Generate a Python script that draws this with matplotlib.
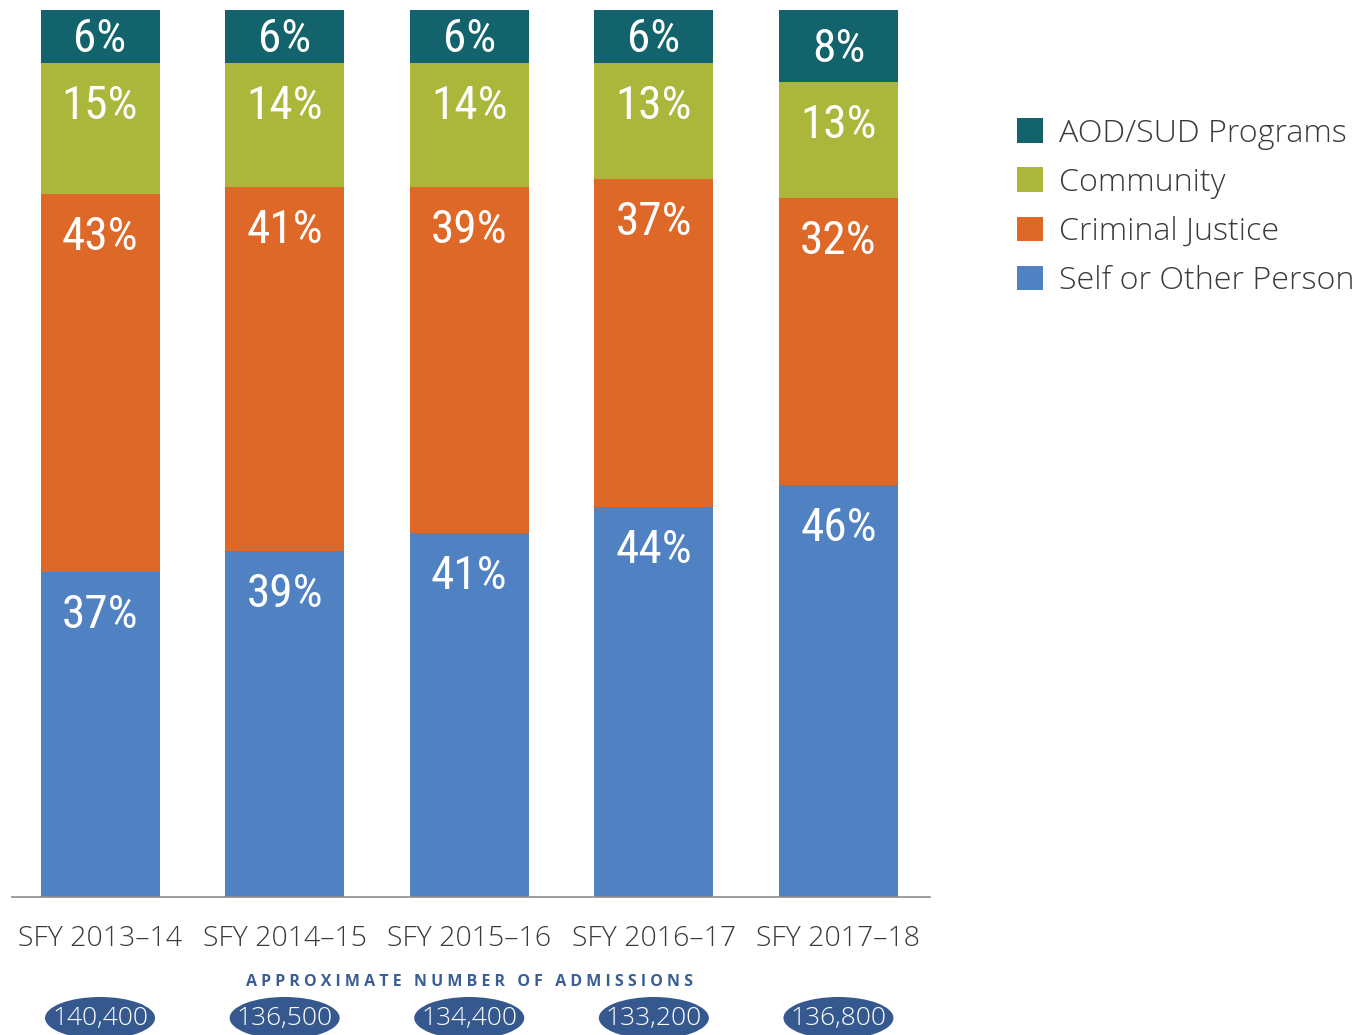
import matplotlib
matplotlib.use("Agg")
import matplotlib.pyplot as plt
from matplotlib.patches import Ellipse
from matplotlib.transforms import blended_transform_factory
from matplotlib import font_manager
import numpy as np

# Referral sources of treatment admissions, share of admissions per fiscal year
years = ["SFY 2013–14", "SFY 2014–15", "SFY 2015–16", "SFY 2016–17", "SFY 2017–18"]
self_other = [37, 39, 41, 44, 46]
criminal_justice = [43, 41, 39, 37, 32]
community = [15, 14, 14, 13, 13]
aod_sud = [6, 6, 6, 6, 8]
admissions = ["140,400", "136,500", "134,400", "133,200", "136,800"]

series_names = ["Self or Other Person", "Criminal Justice", "Community", "AOD/SUD Programs"]
series_vals = [self_other, criminal_justice, community, aod_sud]
colors = ["#5082C3", "#DD6828", "#AAB73A", "#12636B"]

# Prefer a narrow face for the in-bar percentages
installed = {f.name for f in font_manager.fontManager.ttflist}
narrow = [f for f in ["Liberation Sans Narrow", "Roboto Condensed", "Roboto"] if f in installed]
label_font = narrow[0] if narrow else "DejaVu Sans"
label_size = 34 if label_font != "Roboto" else 31
text_font = ["Open Sans", "DejaVu Sans"]

fig = plt.figure(figsize=(13.59, 10.35), dpi=100)
ax = fig.add_axes([12 / 1359, 1 - 897 / 1035, 918 / 1359, 887 / 1035])

x = np.arange(len(years))
vals = np.array(series_vals, dtype=float)
totals = vals.sum(axis=0)
shares = vals / totals * 100  # stacked to a full 100% column

bar_w = 0.645
bottom = np.zeros(len(years))
for name, raw, share, col in zip(series_names, vals, shares, colors):
    ax.bar(x, share, bar_w, bottom=bottom, color=col, label=name, linewidth=0)
    top = bottom + share
    for xi, r, b, t in zip(x, raw, bottom, top):
        if name == "AOD/SUD Programs":
            ax.annotate(f"{int(r)}%", xy=(xi, (b + t) / 2), xytext=(0, -2),
                        textcoords="offset points", ha="center", va="center",
                        color="white", fontsize=label_size, family=label_font)
        else:
            ax.annotate(f"{int(r)}%", xy=(xi, t), xytext=(0, -31),
                        textcoords="offset points", ha="center", va="center",
                        color="white", fontsize=label_size, family=label_font)
    bottom = top

ax.set_xlim(-0.477, 4.496)
ax.set_ylim(0, 100)
for s in ["top", "right", "left"]:
    ax.spines[s].set_visible(False)
ax.spines["bottom"].set_color("#8C8C8C")
ax.spines["bottom"].set_linewidth(1.2)
ax.set_yticks([])
ax.set_xticks(x)
ax.set_xticklabels(years, fontsize=20.5, family=text_font, fontweight="light", color="#3A3A3A")
ax.tick_params(axis="x", length=0, pad=20)

# Admissions heading and per-year ovals below the axis
trans = blended_transform_factory(ax.transData, ax.transAxes)
heading = "   ".join(" ".join(w) for w in "APPROXIMATE NUMBER OF ADMISSIONS".split())
ax.text(2, (897 - 982) / 887, heading, transform=trans, ha="center", va="center",
        fontsize=11.5, fontweight="bold", color="#3A5E94", family=text_font)
for xi, n in zip(x, admissions):
    ax.add_patch(Ellipse((xi, (897 - 1018) / 887), 0.596, 42 / 887, transform=trans,
                         facecolor="#35598F", edgecolor="none", clip_on=False))
    ax.text(xi, (897 - 1019) / 887, n, transform=trans, ha="center", va="center",
            fontsize=19, color="white", family=text_font, fontweight="light")

# Legend, listed top segment first
handles, labels = ax.get_legend_handles_labels()
leg = fig.legend(handles[::-1], labels[::-1], loc="upper left",
                 bbox_to_anchor=(988 / 1359, 1 - 89 / 1035), frameon=False,
                 prop={"family": text_font, "size": 23.2, "weight": "light"},
                 handlelength=0.81, handleheight=0.81, handletextpad=0.48,
                 labelspacing=0.53, labelcolor="#3A3A3A")

fig.savefig("out.png", dpi=100)
